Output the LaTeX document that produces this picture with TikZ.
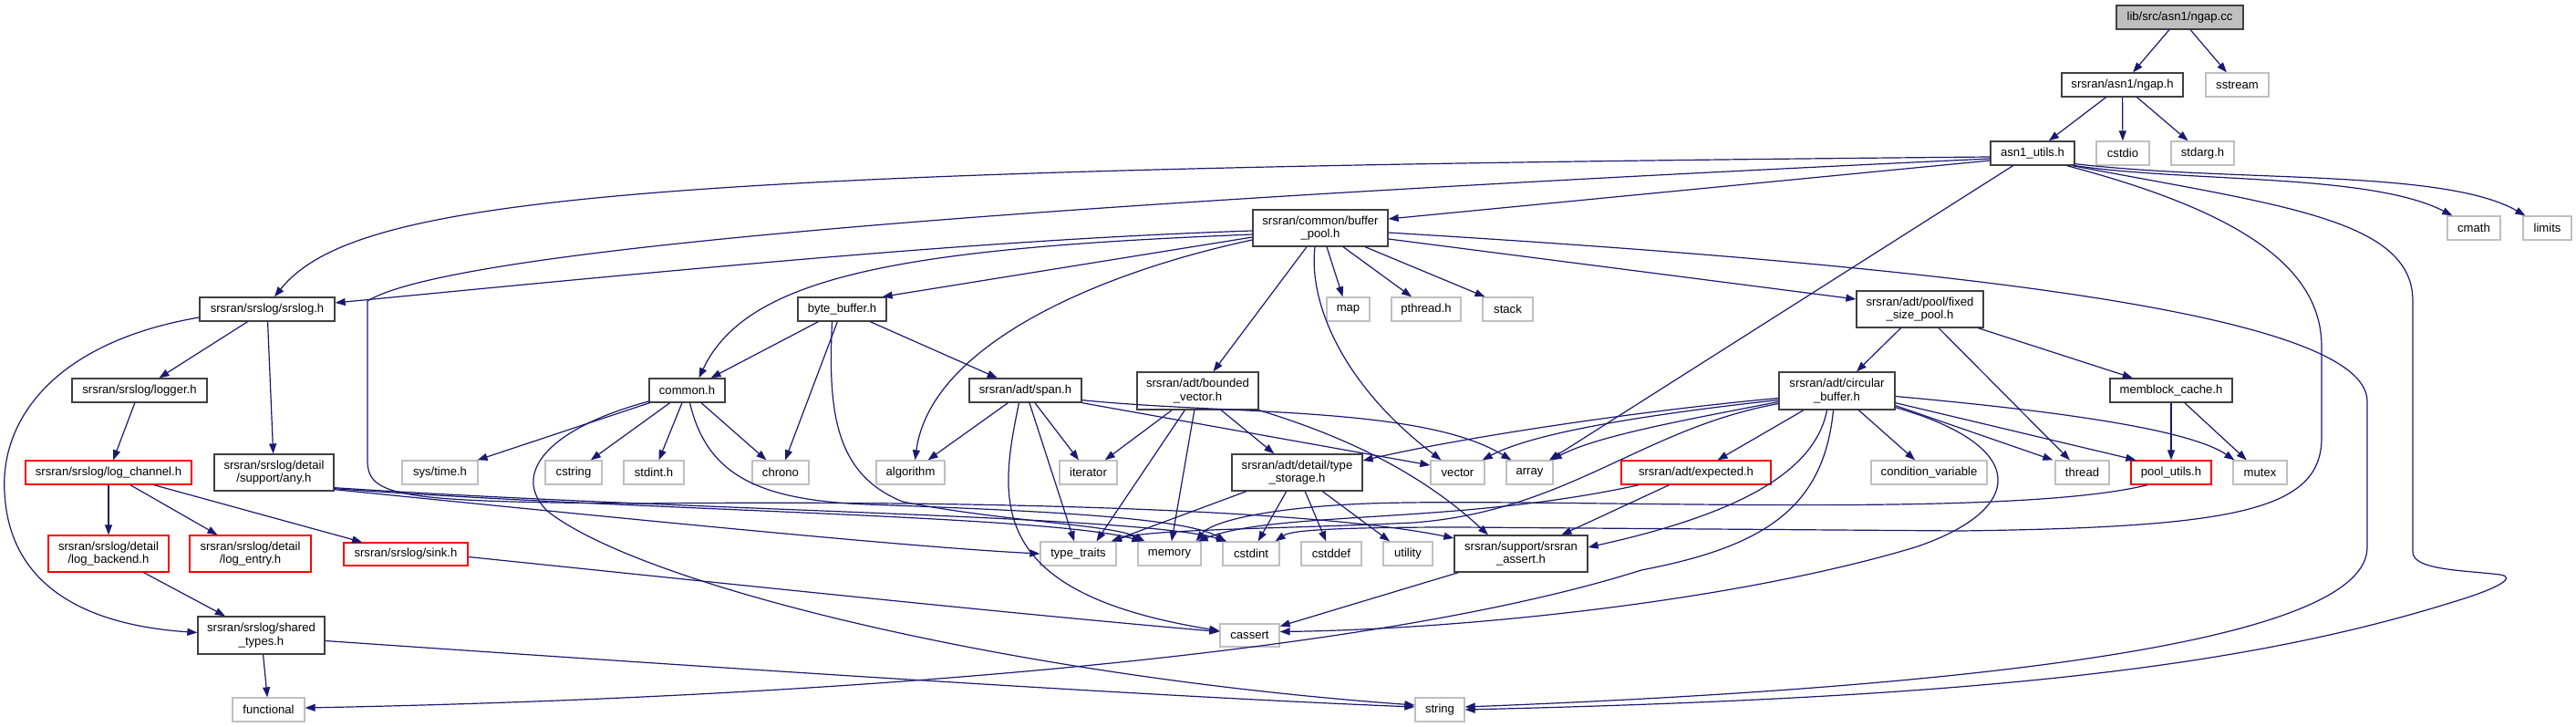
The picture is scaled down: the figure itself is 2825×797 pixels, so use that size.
\documentclass[tikz,border=0pt]{standalone}
\usepackage{fontspec}
\setmainfont{Liberation Sans}
\usetikzlibrary{arrows.meta}
\definecolor{edgec}{RGB}{25,25,112}
\definecolor{dkc}{RGB}{64,64,64}
\definecolor{gyc}{RGB}{191,191,191}
\begin{document}
\begin{tikzpicture}[x=1pt,y=-1pt,
  nb/.style={rectangle,inner sep=0pt,font=\fontsize{13.1pt}{14.6pt}\selectfont,align=center,line width=1.3pt,fill=white,text=black},
  wh/.style 2 args={minimum width=#1pt,minimum height=#2pt},
  dk/.style={nb,draw=dkc},
  gy/.style={nb,draw=gyc},
  rd/.style={nb,draw=red},
  startnode/.style={nb,draw=dkc,fill=gyc},
  edge/.style={draw=edgec,line width=1.2pt,-{Triangle[length=11pt,width=8pt]}}]
\useasboundingbox (0,0) rectangle (2825,797);
% nodes
\node[startnode,wh={139}{26}] (ngapcc) at (2390.5,19) {lib/src/asn1/ngap.cc};
\node[dk,wh={133}{26}] (ngaph) at (2327.5,93) {srsran/asn1/ngap.h};
\node[gy,wh={69}{26}] (sstream) at (2453.5,93) {sstream};
\node[dk,wh={92}{26}] (asn1) at (2229,168) {asn1\_utils.h};
\node[gy,wh={58}{26}] (cstdio) at (2328,168) {cstdio};
\node[gy,wh={69}{26}] (stdarg) at (2415.5,168) {stdarg.h};
\node[gy,wh={58}{26}] (cmath) at (2713,250) {cmath};
\node[gy,wh={53}{26}] (limits) at (2793.5,250) {limits};
\node[dk,wh={148}{40}] (bufpool) at (1448,250) {srsran/common/buffer\\\_pool.h};
\node[gy,wh={47}{26}] (map) at (1478.5,339) {map};
\node[gy,wh={76}{26}] (pthread) at (1564,339) {pthread.h};
\node[gy,wh={55}{26}] (stack) at (1653.5,339) {stack};
\node[dk,wh={139}{40}] (fixedpool) at (2105.5,339) {srsran/adt/pool/fixed\\\_size\_pool.h};
\node[dk,wh={148}{26}] (srslog) at (293,339) {srsran/srslog/srslog.h};
\node[dk,wh={97}{26}] (bytebuf) at (923.5,339) {byte\_buffer.h};
\node[dk,wh={148}{26}] (logger) at (153,428) {srsran/srslog/logger.h};
\node[dk,wh={83}{26}] (common) at (753.5,428) {common.h};
\node[dk,wh={123}{26}] (span) at (1124.5,428) {srsran/adt/span.h};
\node[dk,wh={133}{41}] (bvec) at (1313.5,428.5) {srsran/adt/bounded\\\_vector.h};
\node[dk,wh={127}{41}] (circ) at (2014.5,428.5) {srsran/adt/circular\\\_buffer.h};
\node[dk,wh={134}{26}] (memblock) at (2381,428) {memblock\_cache.h};
\node[rd,wh={182}{26}] (logchan) at (119,518) {srsran/srslog/log\_channel.h};
\node[dk,wh={131}{40}] (any) at (300.5,518) {srsran/srslog/detail\\/support/any.h};
\node[gy,wh={83}{26}] (systime) at (482.5,518) {sys/time.h};
\node[gy,wh={62}{26}] (cstring) at (629,518) {cstring};
\node[gy,wh={66}{26}] (stdint) at (717,518) {stdint.h};
\node[gy,wh={62}{26}] (chrono) at (856,518) {chrono};
\node[gy,wh={75}{26}] (algorithm) at (998.5,518) {algorithm};
\node[gy,wh={63}{26}] (iterator) at (1193.5,518) {iterator};
\node[dk,wh={143}{40}] (tstorage) at (1422.5,518) {srsran/adt/detail/type\\\_storage.h};
\node[gy,wh={59}{26}] (vector) at (1598.5,518) {vector};
\node[gy,wh={51}{26}] (array) at (1677.5,518) {array};
\node[rd,wh={164}{26}] (expected) at (1860,518) {srsran/adt/expected.h};
\node[gy,wh={127}{26}] (condvar) at (2115.5,518) {condition\_variable};
\node[gy,wh={59}{26}] (thread) at (2283.5,518) {thread};
\node[rd,wh={88}{26}] (poolutils) at (2381,518) {pool\_utils.h};
\node[gy,wh={59}{26}] (mutex) at (2478.5,518) {mutex};
\node[rd,wh={132}{40}] (logbackend) at (119,607) {srsran/srslog/detail\\/log\_backend.h};
\node[rd,wh={133}{40}] (logentry) at (274.5,607) {srsran/srslog/detail\\/log\_entry.h};
\node[rd,wh={136}{25}] (sink) at (445,607.5) {srsran/srslog/sink.h};
\node[gy,wh={83}{26}] (typetraits) at (1182.5,607) {type\_traits};
\node[gy,wh={69}{26}] (memory) at (1282.5,607) {memory};
\node[gy,wh={62}{26}] (cstdint) at (1372,607) {cstdint};
\node[gy,wh={66}{26}] (cstddef) at (1460,607) {cstddef};
\node[gy,wh={54}{26}] (utility) at (1544,607) {utility};
\node[dk,wh={146}{40}] (assert) at (1668,607) {srsran/support/srsran\\\_assert.h};
\node[gy,wh={65}{25}] (cassert) at (1370.5,696.5) {cassert};
\node[dk,wh={139}{41}] (sharedtypes) at (286.5,696.5) {srsran/srslog/shared\\\_types.h};
\node[gy,wh={79}{26}] (functional) at (294.5,778) {functional};
\node[gy,wh={54}{26}] (string) at (1579,778) {string};
% edges
\draw[edge] (ngapcc) -- (ngaph);
\draw[edge] (ngapcc) -- (sstream);
\draw[edge] (ngaph) -- (asn1);
\draw[edge] (ngaph) -- (cstdio);
\draw[edge] (ngaph) -- (stdarg);
\draw[edge] ([yshift=-4pt]asn1.west) .. controls (700,185) and (390,215) .. ([xshift=8pt]srslog.north);
\draw[edge] ([yshift=-8pt]asn1.west) -- ([yshift=10pt]bufpool.east);
\draw[edge] ([yshift=-6pt]asn1.west) .. controls (1200,220) and (500,270) .. (403,330) -- (403,505) .. controls (403,545) and (440,550) .. (700,552) .. controls (1100,548) and (1450,560) .. ([yshift=17pt]assert.west);
\draw[edge] (asn1) -- (array);
\draw[edge] ([xshift=-9pt]asn1.south east) .. controls (2450,230) and (2546,290) .. (2546,380) -- (2546,480) .. controls (2546,560) and (2450,578) .. (2150,582) -- (1600,578) .. controls (1450,578) and (1415,582) .. ([xshift=-5pt]cstdint.north east);
\draw[edge] ([xshift=-3pt]asn1.south east) .. controls (2500,225) and (2646,240) .. (2646,330) -- (2646,605) .. controls (2646,625) and (2700,625) .. (2742,630) .. controls (2760,633) and (2740,645) .. (2690,660) .. controls (2450,735) and (2150,765) .. (string.east);
\draw[edge] (asn1.south east) .. controls (2400,200) and (2600,190) .. ([xshift=6pt]cmath.north west);
\draw[edge] ([yshift=2pt]asn1.south east) .. controls (2450,200) and (2680,185) .. ([xshift=3pt]limits.north west);
\draw[edge] ([yshift=-3pt]bufpool.west) .. controls (1100,262) and (800,290) .. ([yshift=7pt]srslog.east);
\draw[edge] ([yshift=-7pt]bufpool.west) .. controls (1000,272) and (820,300) .. ([xshift=13pt]common.north);
\draw[edge] ([yshift=-10pt]bufpool.west) -- ([xshift=-5pt]bytebuf.north east);
\draw[edge] ([yshift=-13pt]bufpool.west) .. controls (1200,300) and (1020,380) .. ([xshift=5pt]algorithm.north);
\draw[edge] ([xshift=-15pt]bufpool.south) -- ([xshift=17pt]bvec.north);
\draw[edge] ([xshift=-6pt]bufpool.south) .. controls (1435,330) and (1470,420) .. ([xshift=-18pt]vector.north);
\draw[edge] ([xshift=7pt]bufpool.south) -- ([xshift=-6pt]map.north);
\draw[edge] ([xshift=25pt]bufpool.south) -- ([xshift=-16pt]pthread.north);
\draw[edge] ([xshift=49pt]bufpool.south) -- ([xshift=-25pt]stack.north);
\draw[edge] ([yshift=-12pt]bufpool.east) -- ([yshift=11pt]fixedpool.west);
\draw[edge] ([yshift=-5pt]bufpool.east) .. controls (2100,290) and (2596,340) .. (2596,440) -- (2596,600) .. controls (2596,700) and (2200,752) .. ([yshift=3pt]string.east);
\draw[edge] (srslog) -- (logger);
\draw[edge] (srslog) -- (any);
\draw[edge] ([yshift=-9pt]srslog.west) .. controls (60,375) and (0,460) .. (5,540) .. controls (10,640) and (90,685) .. ([yshift=3pt]sharedtypes.west);
\draw[edge] (logger) -- (logchan);
\draw[edge] (logchan) -- (logbackend);
\draw[edge] (logchan) -- (logentry);
\draw[edge] (logchan) -- (sink);
\draw[edge] (logbackend) -- (sharedtypes);
\draw[edge] (sharedtypes) -- (functional);
\draw[edge] ([yshift=-6pt]sharedtypes.east) .. controls (900,740) and (1300,765) .. ([yshift=3pt]string.west);
\draw[edge] ([yshift=-3pt]sink.east) .. controls (800,640) and (1100,672) .. ([yshift=4pt]cassert.west);
\draw[edge] ([yshift=2pt]any.south east) .. controls (700,570) and (1000,600) .. (typetraits.west);
\draw[edge] ([yshift=3pt]any.south east) .. controls (700,560) and (1150,565) .. ([xshift=5pt]memory.north west);
\draw[edge] ([yshift=4pt]any.south east) .. controls (750,560) and (1250,565) .. ([xshift=5pt]cstdint.north west);
\draw[edge] (bytebuf) -- (common);
\draw[edge] (bytebuf) -- (span);
\draw[edge] (bytebuf) -- (chrono);
\draw[edge] ([xshift=-11pt]bytebuf.south) .. controls (908,450) and (915,520) .. (990,550) .. controls (1100,572) and (1220,575) .. ([xshift=8pt]memory.north west);
\draw[edge] (common) -- (systime);
\draw[edge] (common) -- (cstring);
\draw[edge] (common) -- (stdint);
\draw[edge] (common) -- (chrono);
\draw[edge] ([yshift=-12pt]common.west) .. controls (600,470) and (560,520) .. (600,560) .. controls (700,640) and (1100,740) .. ([yshift=5pt]string.west);
\draw[edge] ([xshift=3pt]common.south) .. controls (775,520) and (830,548) .. (950,553) .. controls (1150,560) and (1300,568) .. ([xshift=4pt]cstdint.north west);
\draw[edge] (span) -- (algorithm);
\draw[edge] (span) -- (iterator);
\draw[edge] (span) -- (typetraits);
\draw[edge] ([xshift=-7pt]span.south) .. controls (1095,550) and (1080,650) .. ([yshift=5pt]cassert.west);
\draw[edge] (span.south east) -- ([yshift=8pt]vector.west);
\draw[edge] ([yshift=3pt]span.south east) .. controls (1350,455) and (1560,445) .. ([xshift=6pt]array.north west);
\draw[edge] (bvec) -- (iterator);
\draw[edge] (bvec) -- ([xshift=20pt]typetraits.north);
\draw[edge] (bvec) -- (memory);
\draw[edge] (bvec) -- (tstorage);
\draw[edge] (bvec.south east) .. controls (1480,480) and (1560,520) .. ([xshift=-36pt]assert.north);
\draw[edge] (tstorage) -- (typetraits);
\draw[edge] (tstorage) -- (cstdint);
\draw[edge] (tstorage) -- (cstddef);
\draw[edge] (tstorage) -- ([xshift=-20pt]utility.north);
\draw[edge] ([xshift=20pt]expected.south west) .. controls (1600,575) and (1400,560) .. ([xshift=-4pt]memory.north east);
\draw[edge] (expected) -- (assert);
\draw[edge] (assert) -- (cassert);
\draw[edge] (fixedpool) -- (circ);
\draw[edge] (fixedpool) -- (thread);
\draw[edge] (fixedpool) -- (memblock);
\draw[edge] (memblock) -- (poolutils);
\draw[edge] (memblock) -- (mutex);
\draw[edge] ([xshift=-26pt]poolutils.south) .. controls (2200,570) and (1700,545) .. (1500,552) .. controls (1400,556) and (1330,570) .. ([xshift=-6pt]memory.north east);
\draw[edge] (circ) -- (expected);
\draw[edge] (circ) -- (condvar);
\draw[edge] ([yshift=5pt]circ.south east) -- ([xshift=-2pt]thread.north west);
\draw[edge] ([yshift=8pt]circ.south east) -- ([xshift=6pt]poolutils.north west);
\draw[edge] ([yshift=-6pt]circ.east) .. controls (2250,450) and (2400,470) .. ([xshift=2pt]mutex.north west);
\draw[edge] ([yshift=3pt]circ.south east) .. controls (2230,490) and (2220,560) .. (2100,600) .. controls (1900,660) and (1600,690) .. ([yshift=4pt]cassert.east);
\draw[edge] ([xshift=-11pt]circ.south) .. controls (1990,520) and (1900,565) .. ([yshift=7pt]assert.east);
\draw[edge] ([xshift=-4pt]circ.south) .. controls (2000,560) and (1930,600) .. (1800,625) .. controls (1500,720) and (900,765) .. ([yshift=2pt]functional.east);
\draw[edge] ([yshift=-8pt]circ.west) .. controls (1800,450) and (1600,480) .. ([yshift=13pt]tstorage.east);
\draw[edge] ([yshift=-10pt]circ.west) .. controls (1800,455) and (1680,475) .. ([xshift=-3pt]vector.north east);
\draw[edge] ([yshift=-12pt]circ.west) .. controls (1850,460) and (1750,478) .. ([xshift=-2pt]array.north east);
\draw[edge] ([yshift=-14pt]circ.west) .. controls (1800,470) and (1720,560) .. (1550,573) .. controls (1400,580) and (1260,580) .. ([xshift=-6pt]typetraits.north east);
\end{tikzpicture}
\end{document}
